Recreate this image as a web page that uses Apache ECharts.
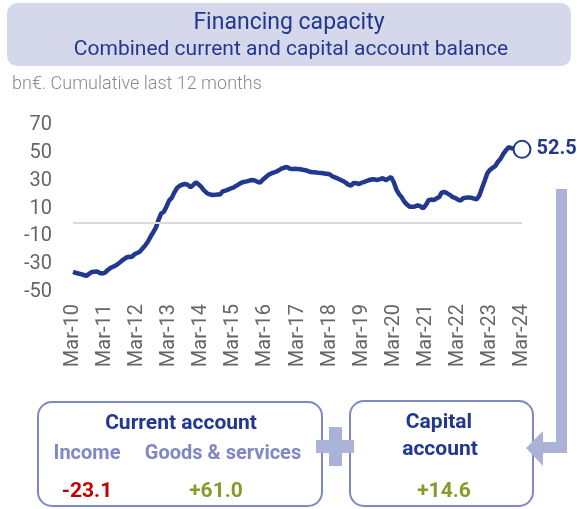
<!DOCTYPE html>
<html>
<head>
<meta charset="utf-8">
<script src="https://cdn.jsdelivr.net/npm/echarts@6.0.0/dist/echarts.min.js"></script>
<style>
  html, body { margin: 0; padding: 0; background: #fff; }
  #main { width: 577px; height: 509px; }
</style>
</head>
<body>
<div id="main"></div>
<script>
// monthly categories Mar-10 .. Mar-24
var years = ['10','11','12','13','14','15','16','17','18','19','20','21','22','23','24'];
var months = ['Mar','Apr','May','Jun','Jul','Aug','Sep','Oct','Nov','Dec','Jan','Feb'];

// financing capacity, bn€, cumulative last 12 months
var capacity = [
  -35.6,-36.2,-36.7,-37.2,-37.8,-38.4,-37.0,-35.6,-35.4,-35.2,-36.3,-36.7,
  -36.0,-34.2,-32.8,-31.9,-30.9,-29.6,-28.0,-26.5,-25.2,-24.6,-24.8,-22.9,
  -22.0,-21.0,-18.8,-16.6,-13.9,-10.3,-7.2,-3.8,1.8,6.5,7.6,11.5,
  15.8,17.8,21.8,24.9,26.4,27.2,27.6,27.0,25.3,27.0,28.8,27.4,
  25.6,23.1,21.2,20.3,19.7,19.8,20.1,20.0,22.3,22.9,23.6,24.4,
  25.0,26.2,27.4,28.5,29.1,29.5,30.0,30.5,30.1,29.2,28.6,30.7,
  32.3,34.0,35.0,35.7,36.4,37.4,38.6,39.3,39.8,38.7,38.3,38.5,
  38.4,38.2,37.8,37.5,36.9,36.2,36.0,35.8,35.6,35.5,35.2,34.9,
  34.6,33.2,32.4,31.6,30.7,29.8,28.6,27.2,26.5,28.4,28.2,27.6,
  28.5,29.2,29.8,30.5,31.0,30.8,30.5,31.2,31.7,30.3,31.5,32.6,
  29.0,23.6,20.3,18.0,14.8,12.8,11.3,11.2,11.5,12.3,11.6,10.1,
  12.5,15.9,16.4,16.1,17.2,18.2,21.6,21.9,20.9,19.8,18.2,17.6,
  16.4,15.7,17.4,17.8,18.0,17.8,17.1,16.6,19.2,24.5,29.8,35.2,
  37.8,39.2,40.5,43.6,45.8,49.2,51.8,54.0,53.4,52.8,53.3,52.9,
  52.5
];
var yTicks = [-50,-30,-10,10,30,50,70];

// breakdown boxes
var income = -23.1;
var goods = 61.0;
var capital = 14.6;

var categories = [];
for (var y = 0; y < years.length; y++) {
  for (var m = 0; m < months.length; m++) {
    var yy = m < 10 ? years[y] : ('0' + (parseInt(years[y], 10) + 1)).slice(-2);
    categories.push(months[m] + '-' + yy);
    if (categories.length >= capacity.length) break;
  }
  if (categories.length >= capacity.length) break;
}

var navy = '#22388e';
var lav = '#aab2d7';
var border = '#7f88c2';

function signed(v) {
  return (v > 0 ? '+' : '') + v.toFixed(1);
}

var myChart = echarts.init(document.getElementById('main'));

var last = capacity.length - 1;

var option = {
  animation: false,
  grid: { left: 73, right: 55, top: 125, bottom: 217 },
  xAxis: {
    type: 'category',
    data: categories,
    boundaryGap: false,
    axisLine: { show: false },
    axisTick: { show: false },
    axisLabel: {
      interval: 11,
      rotate: 90,
      margin: 12,
      fontFamily: 'Roboto',
      fontSize: 20,
      color: '#666'
    }
  },
  yAxis: {
    type: 'value',
    min: -50,
    max: 70,
    axisLine: { show: false },
    axisTick: { show: false },
    splitLine: { show: false },
    axisLabel: {
      customValues: yTicks,
      margin: 21,
      fontFamily: 'Roboto',
      fontSize: 20,
      color: '#666'
    }
  },
  series: [
    {
      name: 'zero',
      type: 'line',
      data: [],
      z: 1,
      markLine: {
        silent: true,
        symbol: 'none',
        label: { show: false },
        lineStyle: { color: '#d9d9d9', width: 2, type: 'solid' },
        data: [{ yAxis: 0 }]
      }
    },
    {
      name: 'Financing capacity',
      type: 'line',
      data: capacity,
      showSymbol: false,
      z: 3,
      lineStyle: { color: navy, width: 4.5 },
      itemStyle: { color: navy }
    },
    {
      name: 'last',
      type: 'scatter',
      z: 5,
      data: [[categories[last], capacity[last]]],
      symbolSize: 17,
      itemStyle: { color: '#fff', opacity: 1, borderColor: navy, borderWidth: 2 },
      label: {
        show: true,
        position: 'right',
        distance: 5,
        formatter: function (p) { return p.value[1].toFixed(1); },
        fontFamily: 'Roboto',
        fontWeight: 'bold',
        fontSize: 20,
        color: navy
      }
    }
  ],
  graphic: [
    // title box
    { type: 'rect', shape: { x: 7, y: 3, width: 564, height: 63, r: 10 }, style: { fill: '#d5d8ea' } },
    { type: 'text', x: 289, y: 23, style: { text: 'Financing capacity', fill: navy, font: '23px Roboto', textAlign: 'center', textVerticalAlign: 'middle' } },
    { type: 'text', x: 291, y: 50, style: { text: 'Combined current and capital account balance', fill: navy, font: '21px Roboto', textAlign: 'center', textVerticalAlign: 'middle' } },
    { type: 'text', x: 12, y: 84, style: { text: 'bn€. Cumulative last 12 months', fill: '#8a8a8a', font: '300 18px Roboto', textAlign: 'left', textVerticalAlign: 'middle' } },

    // arrow from the chart end down to the capital account box
    { type: 'rect', shape: { x: 556, y: 189, width: 11, height: 264 }, style: { fill: lav } },
    { type: 'rect', shape: { x: 542, y: 442, width: 25, height: 11 }, style: { fill: lav } },

    // boxes
    { type: 'rect', shape: { x: 38, y: 402, width: 284, height: 104, r: 14 }, style: { fill: '#fff', stroke: border, lineWidth: 2 } },
    { type: 'rect', shape: { x: 350, y: 401, width: 183, height: 105, r: 14 }, style: { fill: '#fff', stroke: border, lineWidth: 2 } },
    { type: 'polygon', shape: { points: [[526, 448], [543, 431], [543, 466]] }, style: { fill: lav } },

    // plus sign
    { type: 'rect', shape: { x: 316, y: 440, width: 38, height: 13 }, style: { fill: lav } },
    { type: 'rect', shape: { x: 329, y: 427, width: 13, height: 39 }, style: { fill: lav } },

    { type: 'text', x: 181, y: 424, style: { text: 'Current account', fill: navy, font: 'bold 21px Roboto', textAlign: 'center', textVerticalAlign: 'middle' } },
    { type: 'text', x: 87, y: 454, style: { text: 'Income', fill: border, font: 'bold 20px Roboto', textAlign: 'center', textVerticalAlign: 'middle' } },
    { type: 'text', x: 223, y: 454, style: { text: 'Goods & services', fill: border, font: 'bold 20px Roboto', textAlign: 'center', textVerticalAlign: 'middle' } },
    { type: 'text', x: 87, y: 492, style: { text: signed(income), fill: '#c00000', font: 'bold 21px Roboto', textAlign: 'center', textVerticalAlign: 'middle' } },
    { type: 'text', x: 216, y: 492, style: { text: signed(goods), fill: '#8a9a2a', font: 'bold 21px Roboto', textAlign: 'center', textVerticalAlign: 'middle' } },

    { type: 'text', x: 439, y: 423, style: { text: 'Capital', fill: navy, font: 'bold 21px Roboto', textAlign: 'center', textVerticalAlign: 'middle' } },
    { type: 'text', x: 440, y: 450, style: { text: 'account', fill: navy, font: 'bold 21px Roboto', textAlign: 'center', textVerticalAlign: 'middle' } },
    { type: 'text', x: 444, y: 492, style: { text: signed(capital), fill: '#8a9a2a', font: 'bold 21px Roboto', textAlign: 'center', textVerticalAlign: 'middle' } }
  ]
};

myChart.setOption(option);
</script>
</body>
</html>
